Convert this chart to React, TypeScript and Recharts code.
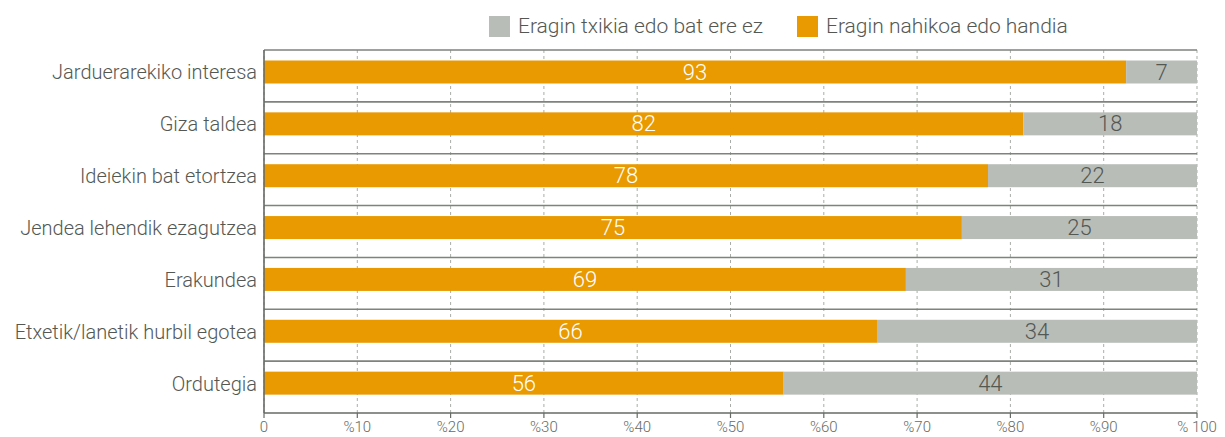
import { Bar, BarChart, CartesianGrid, LabelList, XAxis, YAxis } from "recharts";

const categories = [
  "Jarduerarekiko interesa",
  "Giza taldea",
  "Ideiekin bat etortzea",
  "Jendea lehendik ezagutzea",
  "Erakundea",
  "Etxetik/lanetik hurbil egotea",
  "Ordutegia",
];
const bigValues = [92.4, 81.4, 77.6, 74.8, 68.8, 65.7, 55.7];
const smallValues = [7.6, 18.6, 22.4, 25.2, 31.2, 34.3, 44.3];
const bigLabels = [93, 82, 78, 75, 69, 66, 56];
const smallLabels = [7, 18, 22, 25, 31, 34, 44];
const xTicks = [0, 10, 20, 30, 40, 50, 60, 70, 80, 90, 100];

const SERIES_SMALL = "Eragin txikia edo bat ere ez";
const SERIES_BIG = "Eragin nahikoa edo handia";

const ORANGE = "#E89A00";
const GREY = "#B9BDB8";
const TEXT = "#535853";
const LINE = "#7E837E";
const FONT = "Roboto, 'Open Sans', sans-serif";
const SHIFT = -3.5; // bars sit a bit above the band centre

const data = categories.map((name, i) => ({
  name,
  big: bigValues[i],
  small: smallValues[i],
  bigLabel: bigLabels[i],
  smallLabel: smallLabels[i],
}));

const fmtPct = (v: number) => (v === 0 ? "0" : v === 100 ? "% 100" : `%${v}`);

const ShiftedBar = (props: any) => {
  const { x, y, width, height, fill } = props;
  return <rect x={x} y={y + SHIFT} width={width} height={height} fill={fill} />;
};

const barLabel = (color: string) => (props: any) => {
  const { x, y, width, height, value } = props;
  return (
    <text
      x={Number(x) + Number(width) / 2}
      y={Number(y) + Number(height) / 2 + SHIFT}
      textAnchor="middle"
      dominantBaseline="central"
      fill={color}
      fontSize={22}
      fontFamily={FONT}
      fontWeight={300}
    >
      {value}
    </text>
  );
};

const CatTick = (props: any) => {
  const { x, y, payload } = props;
  return (
    <text
      x={x + 1}
      y={y + SHIFT}
      textAnchor="end"
      dominantBaseline="central"
      fill={TEXT}
      fontSize={20}
      fontFamily={FONT}
      fontWeight={300}
    >
      {payload.value}
    </text>
  );
};

function LegendBox() {
  const item = (color: string, label: string, left: number) => (
    <div style={{ position: "absolute", left, top: 14, display: "flex", alignItems: "center" }}>
      <span style={{ width: 21, height: 21, background: color, display: "inline-block" }} />
      <span style={{ marginLeft: 8, fontSize: 21, color: TEXT, fontFamily: FONT, fontWeight: 300 }}>
        {label}
      </span>
    </div>
  );
  return (
    <>
      {item(GREY, SERIES_SMALL, 489)}
      {item(ORANGE, SERIES_BIG, 797)}
    </>
  );
}

export default function App() {
  return (
    <div style={{ position: "absolute", left: 0, top: 0, width: 1225, height: 437, background: "#fff" }}>
      <LegendBox />
      <BarChart
        width={1225}
        height={437}
        data={data}
        layout="vertical"
        margin={{ top: 50, right: 28, left: 0, bottom: 0 }}
        barSize={23}
      >
        <CartesianGrid
          horizontal={false}
          vertical
          stroke="#A9ADA9"
          strokeDasharray="3 3"
        />
        <CartesianGrid
          vertical={false}
          horizontal
          stroke={LINE}
          strokeWidth={1.6}
          horizontalCoordinatesGenerator={({ offset }: any) =>
            categories.map((_, i) => offset.top + (i * offset.height) / categories.length)
          }
        />
        <XAxis
          type="number"
          domain={[0, 100]}
          ticks={xTicks}
          interval={0}
          tickFormatter={fmtPct}
          height={24}
          tickSize={5}
          tickMargin={3}
          axisLine={{ stroke: "#666B66", strokeWidth: 1.6 }}
          tickLine={{ stroke: "#666B66", strokeWidth: 1.2 }}
          tick={{ fill: "#666B66", fontSize: 15, fontFamily: FONT, fontWeight: 300 }}
        />
        <YAxis
          type="category"
          dataKey="name"
          width={264}
          tickLine={false}
          axisLine={{ stroke: "#666B66", strokeWidth: 1.6 }}
          tick={<CatTick />}
          interval={0}
        />
        <Bar
          dataKey="big"
          name={SERIES_BIG}
          stackId="a"
          fill={ORANGE}
          shape={<ShiftedBar />}
          isAnimationActive={false}
        >
          <LabelList dataKey="bigLabel" content={barLabel("#FFFFFF")} />
        </Bar>
        <Bar
          dataKey="small"
          name={SERIES_SMALL}
          stackId="a"
          fill={GREY}
          shape={<ShiftedBar />}
          isAnimationActive={false}
        >
          <LabelList dataKey="smallLabel" content={barLabel("#535853")} />
        </Bar>
      </BarChart>
    </div>
  );
}
